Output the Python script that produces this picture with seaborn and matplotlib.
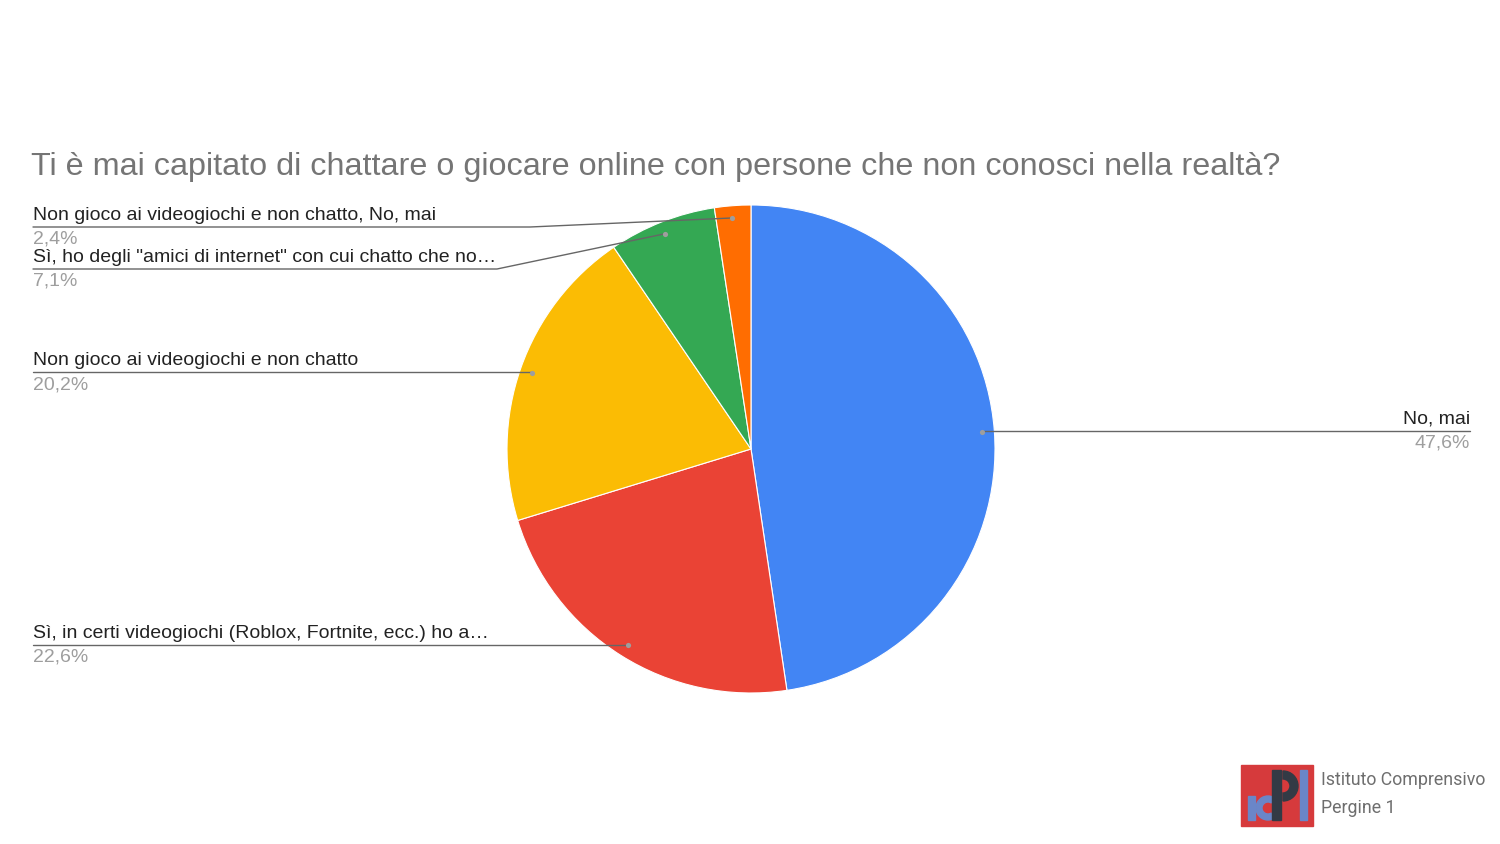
import numpy as np
import matplotlib
matplotlib.use("Agg")
import matplotlib.pyplot as plt
import matplotlib.patches as mpatches
import seaborn as sns

# dati del grafico (ordine orario a partire dalle 12)
categorie = [
    "No, mai",
    "Sì, in certi videogiochi (Roblox, Fortnite, ecc.) ho a…",
    "Non gioco ai videogiochi e non chatto",
    "Sì, ho degli \"amici di internet\" con cui chatto che no…",
    "Non gioco ai videogiochi e non chatto, No, mai",
]
percentuali = [47.6, 22.6, 20.2, 7.1, 2.4]
colori = ["#4285F4", "#EA4335", "#FBBC04", "#34A853", "#FF6D01"]
titolo = "Ti è mai capitato di chattare o giocare online con persone che non conosci nella realtà?"

sns.set_theme(style="white")
plt.rcParams["font.family"] = ["Liberation Sans", "DejaVu Sans"]

W, H = 1500, 844
fig = plt.figure(figsize=(15, 8.44), dpi=100)
ax = fig.add_axes([0, 0, 1, 1])

def Y(y):
    return H - y

cx, cy, R = 751, Y(449), 244
ax.pie(percentuali, colors=colori, startangle=90, counterclock=False,
       center=(cx, cy), radius=R, frame=True,
       wedgeprops=dict(linewidth=0.8, edgecolor="white"))
ax.set_xlim(0, W)
ax.set_ylim(0, H)
ax.set_aspect("equal")
ax.axis("off")

ax.text(31, Y(167), titolo, fontsize=23.3, color="#757575", va="center", ha="left")

# punti di ancoraggio delle etichette sulle fette
cum = np.cumsum([0] + percentuali[:-1])
mid = 90 - 360 * (cum + np.array(percentuali) / 2) / 100
px = cx + 0.95 * R * np.cos(np.radians(mid))
py = cy + 0.95 * R * np.sin(np.radians(mid))

# posizione delle etichette (y della linea, x di piega)
layout = {
    0: ("right", 431, None),
    1: ("left", 645, None),
    2: ("left", 372, None),
    3: ("left", 269, 497),
    4: ("left", 227, 530),
}
line_col = "#666666"
fs = 14
for i, (lato, yl, piega) in layout.items():
    yl_d = Y(yl)
    pct = f"{percentuali[i]:.1f}%".replace(".", ",")
    if lato == "right":
        ax.plot([px[i], 1470], [yl_d, yl_d], color=line_col, lw=1)
        ax.text(1470, yl_d + 3, categorie[i], ha="right", va="bottom", fontsize=fs, color="#222222")
        ax.text(1470, yl_d - 4, pct, ha="right", va="top", fontsize=fs, color="#9E9E9E")
    else:
        xe = px[i] if piega is None else piega
        ax.plot([33, xe, px[i]], [yl_d, yl_d, py[i] if piega else yl_d], color=line_col, lw=1)
        ax.text(33, yl_d + 3, categorie[i], ha="left", va="bottom", fontsize=fs, color="#222222")
        ax.text(33, yl_d - 4, pct, ha="left", va="top", fontsize=fs, color="#9E9E9E")
    ax.scatter([px[i]], [py[i]], s=14, color="#9E9E9E", zorder=5, linewidths=0)

# logo
ax.add_patch(mpatches.Rectangle((1241, Y(826)), 72, 61, color="#D63A3C", zorder=3))
blu, scuro = "#6A86C8", "#333A45"
ax.add_patch(mpatches.Rectangle((1248, Y(820)), 7, 24, color=blu, zorder=4))
ax.add_patch(mpatches.Wedge((1268, Y(808)), 12, 60, 300, width=6, color=blu, zorder=4))
ax.add_patch(mpatches.Rectangle((1272, Y(820)), 9, 50, color=scuro, zorder=5))
ax.add_patch(mpatches.Wedge((1283, Y(786)), 15, -90, 90, width=8, color=scuro, zorder=5))
ax.add_patch(mpatches.Rectangle((1300, Y(820)), 7, 50, color=blu, zorder=4))
logo_font = ["Roboto", "DejaVu Sans"]
ax.text(1321, Y(780), "Istituto Comprensivo", fontsize=12.8, color="#6E6E6E",
        va="center", ha="left", family=logo_font)
ax.text(1321, Y(808), "Pergine 1", fontsize=12.8, color="#6E6E6E",
        va="center", ha="left", family=logo_font)

fig.savefig("out.png", dpi=100, facecolor="white")
